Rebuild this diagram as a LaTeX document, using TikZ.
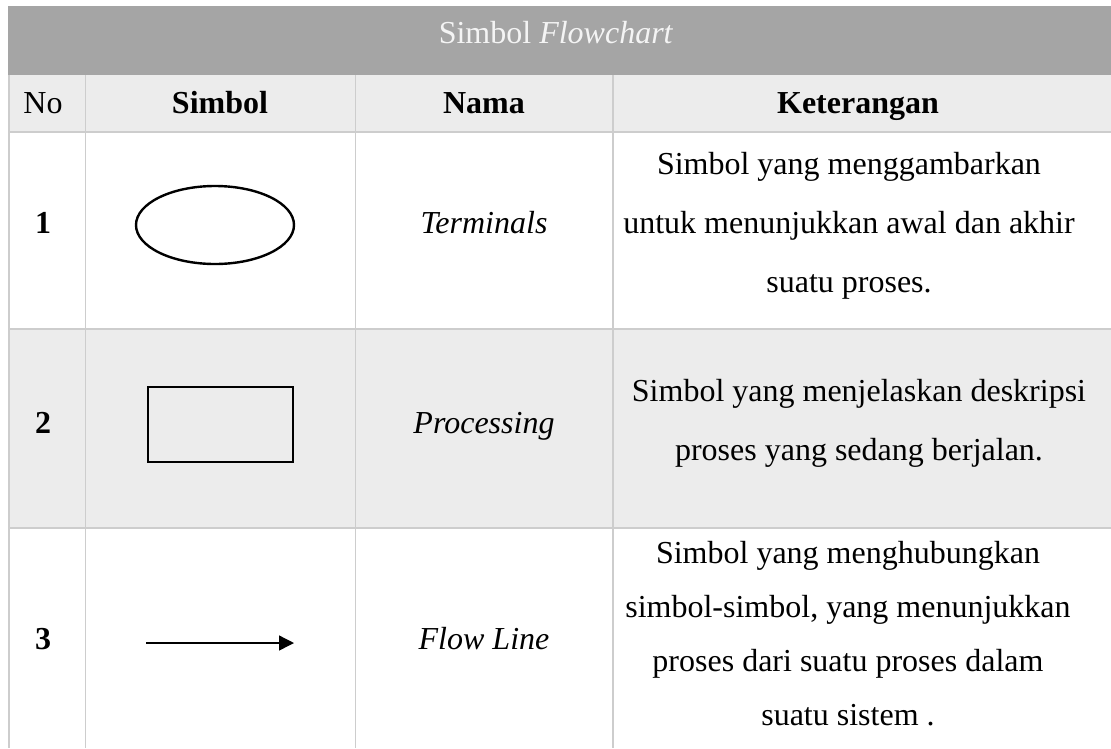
\documentclass[tikz,border=0pt]{standalone}
\usepackage{fontspec}
\setmainfont{Liberation Serif}
\usetikzlibrary{arrows.meta}
\definecolor{headgray}{HTML}{A5A5A5}
\definecolor{rowgray}{HTML}{ECECEC}
\definecolor{rulegray}{HTML}{CDCDCD}
\definecolor{titlewhite}{HTML}{F4F4F4}
\tikzset{
  txt/.style={font=\fontsize{32}{59}\selectfont, align=center, inner sep=0pt, anchor=base},
  bold/.style={txt, font=\fontsize{32}{59}\selectfont\bfseries},
  rule/.style={draw=rulegray, line width=1.6pt},
  sym/.style={draw=black, line width=2.4pt},
}
\begin{document}
\begin{tikzpicture}[x=1pt,y=-1pt]
		\useasboundingbox (0,0) rectangle (1111,748);
		% backgrounds
		\fill[headgray] (8,6) rectangle (1111,75);
		\fill[rowgray] (8,75) rectangle (1111,132);
		\fill[rowgray] (8,329) rectangle (1111,528);
		% rules
		\draw[rule] (8,132) -- (1111,132);
		\draw[rule] (8,329) -- (1111,329);
		\draw[rule] (8,528) -- (1111,528);
		\draw[rule] (9,75) -- (9,748);
		\draw[rule] (85.5,75) -- (85.5,748);
		\draw[rule] (355.5,75) -- (355.5,748);
		\draw[rule] (613,75) -- (613,748);
		% title
		\node[txt, text=titlewhite] (title) at (556,43) {Simbol \textit{Flowchart}};
		% column heads
		\node[txt] (hno) at (43,113) {No};
		\node[bold] (hsym) at (220,113) {Simbol};
		\node[bold] (hname) at (484,113) {Nama};
		\node[bold] (hdesc) at (858,113) {Keterangan};
		% row 1 (base anchor = last line)
		\node[bold] (no1) at (43,233) {1};
		\draw[sym] (215,225) ellipse [x radius=79, y radius=39];
		\node[txt] (name1) at (484,233) {\textit{Terminals}};
		\node[txt] (desc1) at (849,292) {Simbol yang menggambarkan\\untuk menunjukkan awal dan akhir\\suatu proses.};
		% row 2
		\node[bold] (no2) at (43,433) {2};
		\draw[sym] (148,387) rectangle (293,462);
		\node[txt] (name2) at (484,433) {\textit{Processing}};
		\node[txt] (desc2) at (859,460) {Simbol yang menjelaskan deskripsi\\proses yang sedang berjalan.};
		% row 3
		\node[bold] (no3) at (43,649) {3};
		\coordinate (flowa) at (146,643);
		\coordinate (flowb) at (294,643);
		\draw[line width=1.4pt, -{Triangle[length=15pt,width=15pt]}] (flowa) -- (flowb);
		\node[txt] (name3) at (484,649) {\textit{Flow Line}};
		\node[txt, font=\fontsize{32}{54}\selectfont] (desc3) at (848,725) {Simbol yang menghubungkan\\simbol-simbol, yang menunjukkan\\proses dari suatu proses dalam\\suatu sistem .};
		\end{tikzpicture}
\end{document}
